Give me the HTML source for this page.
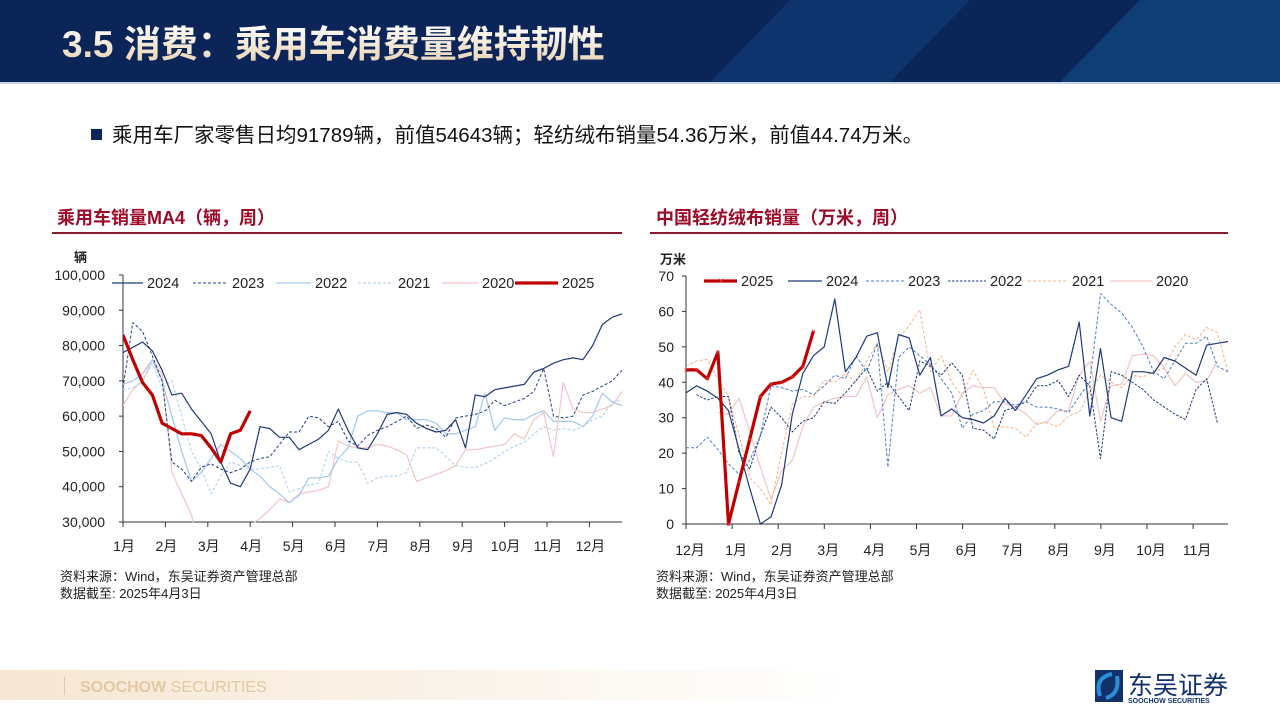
<!DOCTYPE html>
<html><head><meta charset="utf-8">
<style>
body{margin:0;width:1280px;height:720px;overflow:hidden;background:#fff;font-family:"Liberation Sans","Noto Sans CJK SC",sans-serif;}
svg{position:absolute;left:0;top:0}
</style></head>
<body>
<svg id="s" width="1280" height="720" viewBox="0 0 1280 720">
<defs>
<linearGradient id="tg" x1="0" y1="0" x2="0" y2="1"><stop offset="0" stop-color="#ffffff"/><stop offset="1" stop-color="#e8d2b0"/></linearGradient>
<linearGradient id="fg" x1="0" y1="0" x2="1" y2="0"><stop offset="0" stop-color="#f6e6d2"/><stop offset="1" stop-color="#ffffff"/></linearGradient>
<clipPath id="cl"><rect x="123" y="270" width="500" height="253"/></clipPath>
<clipPath id="cr"><rect x="686" y="270" width="543" height="256"/></clipPath>
</defs>
<g>
<rect x="0" y="0" width="1280" height="82" fill="#0b2559"/>
<polygon points="710,82 790,0 970,0 890,82" fill="#0f3a78" opacity="0.7"/>
<polygon points="1060,82 1140,0 1280,0 1280,82" fill="#114985" opacity="0.7"/>
<rect x="0" y="82" width="1280" height="2" fill="#c9d4e4"/>
<text x="62" y="57" font-size="37" font-weight="bold" fill="url(#tg)" font-family="Liberation Sans,Noto Sans CJK SC,sans-serif">3.5 消费：乘用车消费量维持韧性</text>
</g>
<rect x="91" y="129" width="11" height="11" fill="#0b2559"/>
<text x="112" y="142" font-size="20.5" fill="#111">乘用车厂家零售日均91789辆，前值54643辆；轻纺绒布销量54.36万米，前值44.74万米。</text>

<text x="57" y="224" font-size="18" font-weight="bold" fill="#9c0a28">乘用车销量MA4（辆，周）</text>
<rect x="52" y="232" width="570" height="2" fill="#8a1a2e"/>
<text x="656" y="224" font-size="18" font-weight="bold" fill="#9c0a28">中国轻纺绒布销量（万米，周）</text>
<rect x="650" y="232" width="578" height="2" fill="#8a1a2e"/>

<g id="L"></g>
<g id="R"></g>

<text x="60" y="581" font-size="13" fill="#222">资料来源：Wind，东吴证券资产管理总部</text>
<text x="60" y="598" font-size="13" fill="#222">数据截至: 2025年4月3日</text>
<text x="656" y="581" font-size="13" fill="#222">资料来源：Wind，东吴证券资产管理总部</text>
<text x="656" y="598" font-size="13" fill="#222">数据截至: 2025年4月3日</text>

<g>
<rect x="0" y="670" width="850" height="30" fill="url(#fg)"/>
<rect x="64" y="677" width="1" height="18" fill="#e0c8a8"/>
<text x="80" y="692" font-size="16" fill="#e2c9a4"><tspan font-weight="bold">SOOCHOW</tspan> SECURITIES</text>
<g>
<rect x="1095" y="670" width="28" height="32" fill="#12306a"/>
<path d="M1100,696 q-6,-18 12,-22 M1106,698 q14,-4 11,-22" stroke="#2b8fd8" stroke-width="4" fill="none"/>
<text x="1128" y="694" font-size="25" fill="#12306a">东吴证券</text>
<text x="1128" y="703" font-size="7" font-weight="bold" fill="#12306a">SOOCHOW SECURITIES</text>
</g>
</g>
</svg>
<script>
const leftYTicks=[30000,40000,50000,60000,70000,80000,90000,100000];
const leftYLabels=["30,000","40,000","50,000","60,000","70,000","80,000","90,000","100,000"];
const leftMonths=["1月","2月","3月","4月","5月","6月","7月","8月","9月","10月","11月","12月"];
const car2024=[78,79.5,81,78.5,73,66,66.5,62,58.5,55,47,41,40,45,57,56.5,54,54,50.5,52,53.5,56,62,56,51,50.5,55,60.5,61,60.5,58,56.5,55.5,56,59,51,66,65.5,67.5,68,68.5,69,72.5,73.5,75,76,76.5,76,80,86,88,89];
const car2023=[68,86.5,84,77,70,47,45,41.5,45.5,46.5,45,44,45,47,48,48.5,52,55.5,55.5,60,59.5,57,58.5,53,51.5,54.5,56,57,58.5,60,56.5,57.5,56.5,54,59.5,60,60.5,61.5,64.5,63,64,65,67,73.5,60,59.5,60,66,67,68.5,70,73];
const car2022=[69,70,72,76,70,60,50,41.5,44,48,52,50,48,45,43,40,38,35.5,37.5,42.5,42.5,43,48,51,60,61.5,61.5,61,61,59,59,59,58,55,55,56,57,66.5,56,59.5,59,59,60.5,61.5,58.5,58.5,58.5,57,60,66.5,64,63];
const car2021=[67.5,68,70,75,68,70,60,50,45,38,43,47,46,45,45,45.5,46,38.5,39.5,40.5,41,50,48,47,47,41,42.5,43,43,44,51,51,51,48.5,46,45.5,45.5,46.5,48,50,51.5,52.5,55,57,56,56.5,56,57,59,60,64,64.5];
const car2020=[63,67.5,70,76,72,44,38,32,20,10,10,15,25,29,31,33.5,36.5,35.5,38,38.5,39,40,53,51.5,51,51,52,51.5,50.5,49,41.5,42.5,43.5,44.5,46,50.5,50.5,51,51.5,52,55,53.5,59,61,48.5,69.5,62,61,61,62,63,67];
const car2025=[83,76,69.5,66,58,56.5,55,55,54.5,51,47,55,56,61.5];

const rightYTicks=[0,10,20,30,40,50,60,70];
const rightMonths=["12月","1月","2月","3月","4月","5月","6月","7月","8月","9月","10月","11月"];
const cloth2025=[43.5,43.5,41,48.5,0,12,24,36,39.5,40,41.5,44.5,54.5];
const cloth2024=[37,39,37.5,35.5,32,21,10,0,2,11,31,42.5,47.5,50,63.5,43,47,53,54,38.5,53.5,52.5,42,47,30.5,32.5,30,29.5,28.5,30.5,35.5,32,36.5,41,42,43.5,44.5,57,30.5,49.5,30,29,43,43,42.5,47,46,44,42,50.5,51,51.5];
const cloth2023=[21.5,21.5,24.5,21,17,14,18,25,39,38.5,37.5,38,36.5,39,42,41,47.5,43,51,16,47,50,47.5,45,41,37,27,31,32,34.5,34.5,33.5,34.5,33,33,32.5,31.5,36,40,65,62,59.5,55.5,50,43,41,46,51,51,53,44.5,43];
const cloth2022=[null,36.5,35,36,36,20,15.5,25,33,30,26,29,30,34.5,34,37,40.5,44,37.5,40,36,32,46,44.5,42,45.5,42,27,26.5,24,32,33,34.5,39,39,40.5,36,42,39,18.5,43,42,40,38,35,33,31,29.5,38,41,28.5];
const cloth2021=[44.5,46,46.5,41,36,25,13,10,5.5,20,34,36,36,40.5,40,42.5,40,46,51,43,52.5,56,60.5,43,47.5,40,36,43.5,38,27,27.5,27,24.5,28.5,28.5,27.5,30.5,31.5,37.5,42,40,38.5,42,41.5,43,44,50,53.5,52,55.5,54,43];
const cloth2020=[null,null,null,31.5,31,35.5,26,16,7,15,18,27.5,33,34.5,35.5,36,36,41.5,30,36.5,38,39,37,38.5,30.5,30.5,37,39,38.5,38.5,34,33,31,28,29,32,32,42,46,29,39,39.5,47.5,48,47.5,44,39,42.5,40,40.5,46];

const NS="http://www.w3.org/2000/svg";
function mk(tag,attrs,parent){const e=document.createElementNS(NS,tag);for(const k in attrs)e.setAttribute(k,attrs[k]);parent.appendChild(e);return e;}

const LX0=123,LX1=622,LY0=522,LY1=275;
const lx=i=>LX0+i*(LX1-LX0)/51;
const ly=v=>LY0-(v-30000)/(70000)*(LY0-LY1);
const monthX=m=>LX0+m*42.4;
const L=document.getElementById('L');
mk('text',{x:74,y:262,'font-size':13,'font-weight':'bold',fill:'#222'},L).textContent='辆';
leftYTicks.forEach((t,i)=>{
  const tk=mk('line',{x1:LX0-4,x2:LX0,y1:ly(t),y2:ly(t),stroke:'#333'},L);
  
  
  const tx=mk('text',{x:LX0-18,y:ly(t)+5,'font-size':14,fill:'#222','text-anchor':'end'},L);
  
  
  tx.textContent=leftYLabels[i];
});
mk('line',{x1:LX0,x2:LX0,y1:LY1,y2:LY0,stroke:'#333'},L);
mk('line',{x1:LX0,x2:LX1,y1:LY0,y2:LY0,stroke:'#333'},L);
leftMonths.forEach((m,i)=>{
  mk('line',{x1:monthX(i),x2:monthX(i),y1:LY0,y2:LY0+5,stroke:'#333'},L);
  const tx=mk('text',{x:monthX(i)+1,y:LY0+29,'font-size':14,fill:'#222','text-anchor':'middle'},L);
  
  
  tx.textContent=m;
});
function series(parent,data,xf,yf,scale,style,name,clip){
  let d='';let pen=false;
  data.forEach((v,i)=>{if(v===null){pen=false;return;}d+=(pen?'L':'M')+xf(i).toFixed(1)+','+yf(v*scale).toFixed(1);pen=true;});
  const p=mk('path',Object.assign({d:d,fill:'none','clip-path':'url(#'+clip+')','stroke-linejoin':'round'},style),parent);
  
  
  return p;
}
const Ls=[
 [car2020,{stroke:'#f2c4c8','stroke-width':1.2},'line-2020'],
 [car2021,{stroke:'#b9d5ef','stroke-width':1.2,'stroke-dasharray':'3,2'},'line-2021'],
 [car2022,{stroke:'#a9cbec','stroke-width':1.3},'line-2022'],
 [car2023,{stroke:'#24417f','stroke-width':1,'stroke-dasharray':'3,2'},'line-2023'],
 [car2024,{stroke:'#1f3a78','stroke-width':1.2},'line-2024'],
 [car2025,{stroke:'#c00000','stroke-width':3.2},'line-2025']];
Ls.forEach(s=>series(L,s[0],lx,ly,1000,s[1],'left-'+s[2],'cl'));
const leftLeg=[[112,143,'2024',Ls[4][1]],[193,228,'2023',Ls[3][1]],[276,311,'2022',Ls[2][1]],[358,394,'2021',Ls[1][1]],[442,478,'2020',Ls[0][1]],[515,558,'2025',Ls[5][1]]];
leftLeg.forEach(g=>{
  const gg=mk('g',{},L);
  
  
  mk('line',Object.assign({x1:g[0],x2:g[1],y1:283,y2:283},g[3]),gg);
  mk('text',{x:g[1]+4,y:288,'font-size':14.5,fill:'#222'},gg).textContent=g[2];
});

const RX0=686,RX1=1228,RY0=524,RY1=276;
const rx=i=>RX0+i*(RX1-RX0)/51;
const ry=v=>RY0-v/70*(RY0-RY1);
const rMonthX=m=>RX0+m*46.1;
const R=document.getElementById('R');
mk('text',{x:660,y:264,'font-size':13,'font-weight':'bold',fill:'#222'},R).textContent='万米';
rightYTicks.forEach(t=>{
  mk('line',{x1:RX0-4,x2:RX0,y1:ry(t),y2:ry(t),stroke:'#333'},R);
  const tx=mk('text',{x:RX0-12,y:ry(t)+5,'font-size':14,fill:'#222','text-anchor':'end'},R);
  
  
  tx.textContent=t;
});
mk('line',{x1:RX0,x2:RX0,y1:RY1,y2:RY0,stroke:'#333'},R);
mk('line',{x1:RX0,x2:RX1,y1:RY0,y2:RY0,stroke:'#333'},R);
rightMonths.forEach((m,i)=>{
  mk('line',{x1:rMonthX(i),x2:rMonthX(i),y1:RY0,y2:RY0+5,stroke:'#333'},R);
  const tx=mk('text',{x:rMonthX(i)+4,y:RY0+31,'font-size':14,fill:'#222','text-anchor':'middle'},R);
  
  
  tx.textContent=m;
});
const Rs=[
 [cloth2020,{stroke:'#f1c9c9','stroke-width':1.3},'line-2020'],
 [cloth2021,{stroke:'#f4b183','stroke-width':1,'stroke-dasharray':'3,2'},'line-2021'],
 [cloth2022,{stroke:'#1f3a78','stroke-width':1,'stroke-dasharray':'2.5,1.5'},'line-2022'],
 [cloth2023,{stroke:'#4a7cc8','stroke-width':1,'stroke-dasharray':'3,2'},'line-2023'],
 [cloth2024,{stroke:'#1f3a78','stroke-width':1.2},'line-2024'],
 [cloth2025,{stroke:'#c00000','stroke-width':3.2},'line-2025']];
Rs.forEach(s=>series(R,s[0],rx,ry,1,s[1],'right-'+s[2],'cr'));
cloth2025.forEach((v,i)=>{
  const m=mk('text',{x:rx(i),y:ry(v)+3,'font-size':8,fill:'#e04040','text-anchor':'middle'},R);
  
  
  m.textContent='×';
});
const rightLeg=[[704,737,'2025',Rs[5][1]],[788,822,'2024',Rs[4][1]],[866,904,'2023',Rs[3][1]],[948,986,'2022',Rs[2][1]],[1028,1068,'2021',Rs[1][1]],[1110,1152,'2020',Rs[0][1]]];
rightLeg.forEach(g=>{
  const gg=mk('g',{},R);
  
  
  mk('line',Object.assign({x1:g[0],x2:g[1],y1:281,y2:281},g[3]),gg);
  mk('text',{x:g[1]+4,y:286,'font-size':14.5,fill:'#222'},gg).textContent=g[2];
});
mk('text',{x:721,y:284,'font-size':10,fill:'#e04040','text-anchor':'middle'},R).textContent='×';
</script>
</body></html>
